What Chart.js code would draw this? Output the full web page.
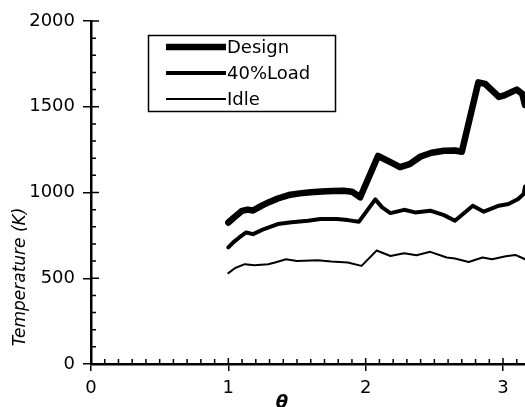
<!DOCTYPE html>
<html>
<head>
<meta charset="utf-8">
<script src="https://cdn.jsdelivr.net/npm/chart.js@4.4.1/dist/chart.umd.min.js"></script>
<style>
  html, body { margin: 0; padding: 0; background: #fff; }
  #wrap { width: 525px; height: 407px; }
</style>
</head>
<body>
<div id="wrap"><canvas id="c"></canvas></div>
<script>
// values
const designTheta = [1.00, 1.05, 1.10, 1.14, 1.18, 1.24, 1.30, 1.36, 1.44, 1.52, 1.60, 1.68, 1.76, 1.84, 1.90, 1.96,
  2.09, 2.18, 2.25, 2.32, 2.40, 2.48, 2.57, 2.65, 2.70, 2.82, 2.87, 2.97, 3.01, 3.06, 3.10, 3.14, 3.16];
const designTemp = [825, 860, 893, 900, 895, 922, 945, 965, 985, 995, 1002, 1006, 1009, 1010, 1005, 972,
  1213, 1177, 1148, 1165, 1210, 1232, 1243, 1245, 1238, 1642, 1633, 1557, 1566, 1585, 1600, 1575, 1510];

const loadTheta = [1.00, 1.04, 1.08, 1.13, 1.18, 1.26, 1.36, 1.46, 1.58, 1.67, 1.79, 1.87, 1.95,
  2.07, 2.12, 2.18, 2.28, 2.36, 2.47, 2.57, 2.65, 2.78, 2.86, 2.97, 3.04, 3.11, 3.15, 3.16];
const loadTemp = [680, 712, 738, 767, 757, 787, 816, 826, 835, 845, 845, 839, 829,
  960, 913, 880, 899, 884, 894, 868, 835, 923, 888, 923, 933, 962, 991, 1035];

const idleTheta = [1.00, 1.05, 1.12, 1.19, 1.29, 1.34, 1.42, 1.50, 1.65, 1.75, 1.87, 1.97,
  2.08, 2.18, 2.28, 2.37, 2.47, 2.59, 2.65, 2.75, 2.85, 2.92, 3.02, 3.09, 3.16];
const idleTemp = [530, 560, 582, 576, 582, 592, 611, 601, 605, 598, 592, 572,
  662, 630, 646, 634, 654, 621, 615, 595, 621, 611, 628, 636, 611];

const seriesNames = ['Design', '40%Load', 'Idle'];
const seriesWidths = [6.5, 4, 2];
const xTickValues = [0, 1, 2, 3];
const yTickValues = [0, 500, 1000, 1500, 2000];

const FONT = 'DejaVu Sans';

function toPoints(xs, ys) {
  return xs.map((x, i) => ({ x: x, y: ys[i] }));
}

const datasets = [
  toPoints(designTheta, designTemp),
  toPoints(loadTheta, loadTemp),
  toPoints(idleTheta, idleTemp)
].map((pts, i) => ({
  label: seriesNames[i],
  data: pts,
  borderColor: '#000',
  backgroundColor: '#000',
  borderWidth: seriesWidths[i],
  borderJoinStyle: 'round',
  borderCapStyle: 'round',
  pointRadius: 0,
  tension: 0,
  fill: false
}));

// inner ticks, axis titles and the boxed legend
const decor = {
  id: 'decor',
  afterDraw(chart) {
    const ctx = chart.ctx;
    const xs = chart.scales.x, ys = chart.scales.y;
    const ay = ys.getPixelForValue(0);
    ctx.save();
    ctx.strokeStyle = '#000';
    ctx.lineWidth = 1.5;
    ctx.beginPath();
    for (let v = 100; v <= 2000; v += 100) {
      const py = ys.getPixelForValue(v);
      const len = v % 500 === 0 ? 8 : 5;
      ctx.moveTo(chart.chartArea.left, py);
      ctx.lineTo(chart.chartArea.left + len, py);
    }
    for (let k = 1; k <= 31; k++) {
      const px = xs.getPixelForValue(k / 10);
      const len = k % 10 === 0 ? 6 : 5;
      ctx.moveTo(px, ay);
      ctx.lineTo(px, ay - len);
    }
    ctx.stroke();

    // y title
    ctx.fillStyle = '#000';
    ctx.font = 'italic 17px ' + FONT;
    ctx.textAlign = 'center';
    ctx.textBaseline = 'middle';
    ctx.translate(21, 277);
    ctx.rotate(-Math.PI / 2);
    ctx.fillText('Temperature (K)', 0, 0);
    ctx.setTransform(1, 0, 0, 1, 0, 0);
    ctx.scale(chart.currentDevicePixelRatio, chart.currentDevicePixelRatio);

    // x title
    ctx.font = 'italic bold 18px ' + FONT;
    ctx.textAlign = 'center';
    ctx.textBaseline = 'top';
    ctx.fillText('\u03B8', 282, 394);

    // legend
    ctx.lineWidth = 1.5;
    ctx.strokeRect(148.5, 35.5, 187, 76);
    ctx.font = '18px ' + FONT;
    ctx.textAlign = 'left';
    ctx.textBaseline = 'middle';
    const rows = [47, 73, 99];
    chart.data.datasets.forEach((ds, i) => {
      ctx.lineWidth = ds.borderWidth;
      ctx.lineCap = 'butt';
      ctx.beginPath();
      ctx.moveTo(166, rows[i]);
      ctx.lineTo(226, rows[i]);
      ctx.stroke();
      ctx.fillText(ds.label, 227, rows[i] + 1);
    });
    ctx.restore();
  }
};

new Chart(document.getElementById('c'), {
  type: 'line',
  data: { datasets },
  options: {
    responsive: true,
    maintainAspectRatio: false,
    animation: false,
    devicePixelRatio: 1,
    layout: { padding: { top: 21, right: 0, left: 0, bottom: 0 } },
    plugins: { legend: { display: false }, tooltip: { enabled: false } },
    scales: {
      x: {
        type: 'linear',
        min: 0,
        max: 3.16,
        afterBuildTicks: s => { s.ticks = xTickValues.map(v => ({ value: v })); },
        afterFit: s => { s.height = 43; s.paddingLeft = 0; s.paddingRight = 0; },
        border: { display: true, color: '#000', width: 2.5 },
        grid: { drawOnChartArea: false, drawTicks: true, tickLength: 7, color: '#000', lineWidth: 1.5 },
        ticks: { color: '#000', padding: 7, maxRotation: 0, callback: v => String(v), font: { family: FONT, size: 18 } }
      },
      y: {
        min: 0,
        max: 2000,
        afterBuildTicks: s => { s.ticks = yTickValues.map(v => ({ value: v })); },
        afterFit: s => { s.width = 91; s.paddingTop = 0; s.paddingBottom = 0; },
        border: { display: true, color: '#000', width: 2.5 },
        grid: { drawOnChartArea: false, drawTicks: true, tickLength: 8, color: '#000', lineWidth: 1.5 },
        ticks: { color: '#000', padding: 8, callback: v => String(v), font: { family: FONT, size: 18 } }
      }
    }
  },
  plugins: [decor]
});
</script>
</body>
</html>
